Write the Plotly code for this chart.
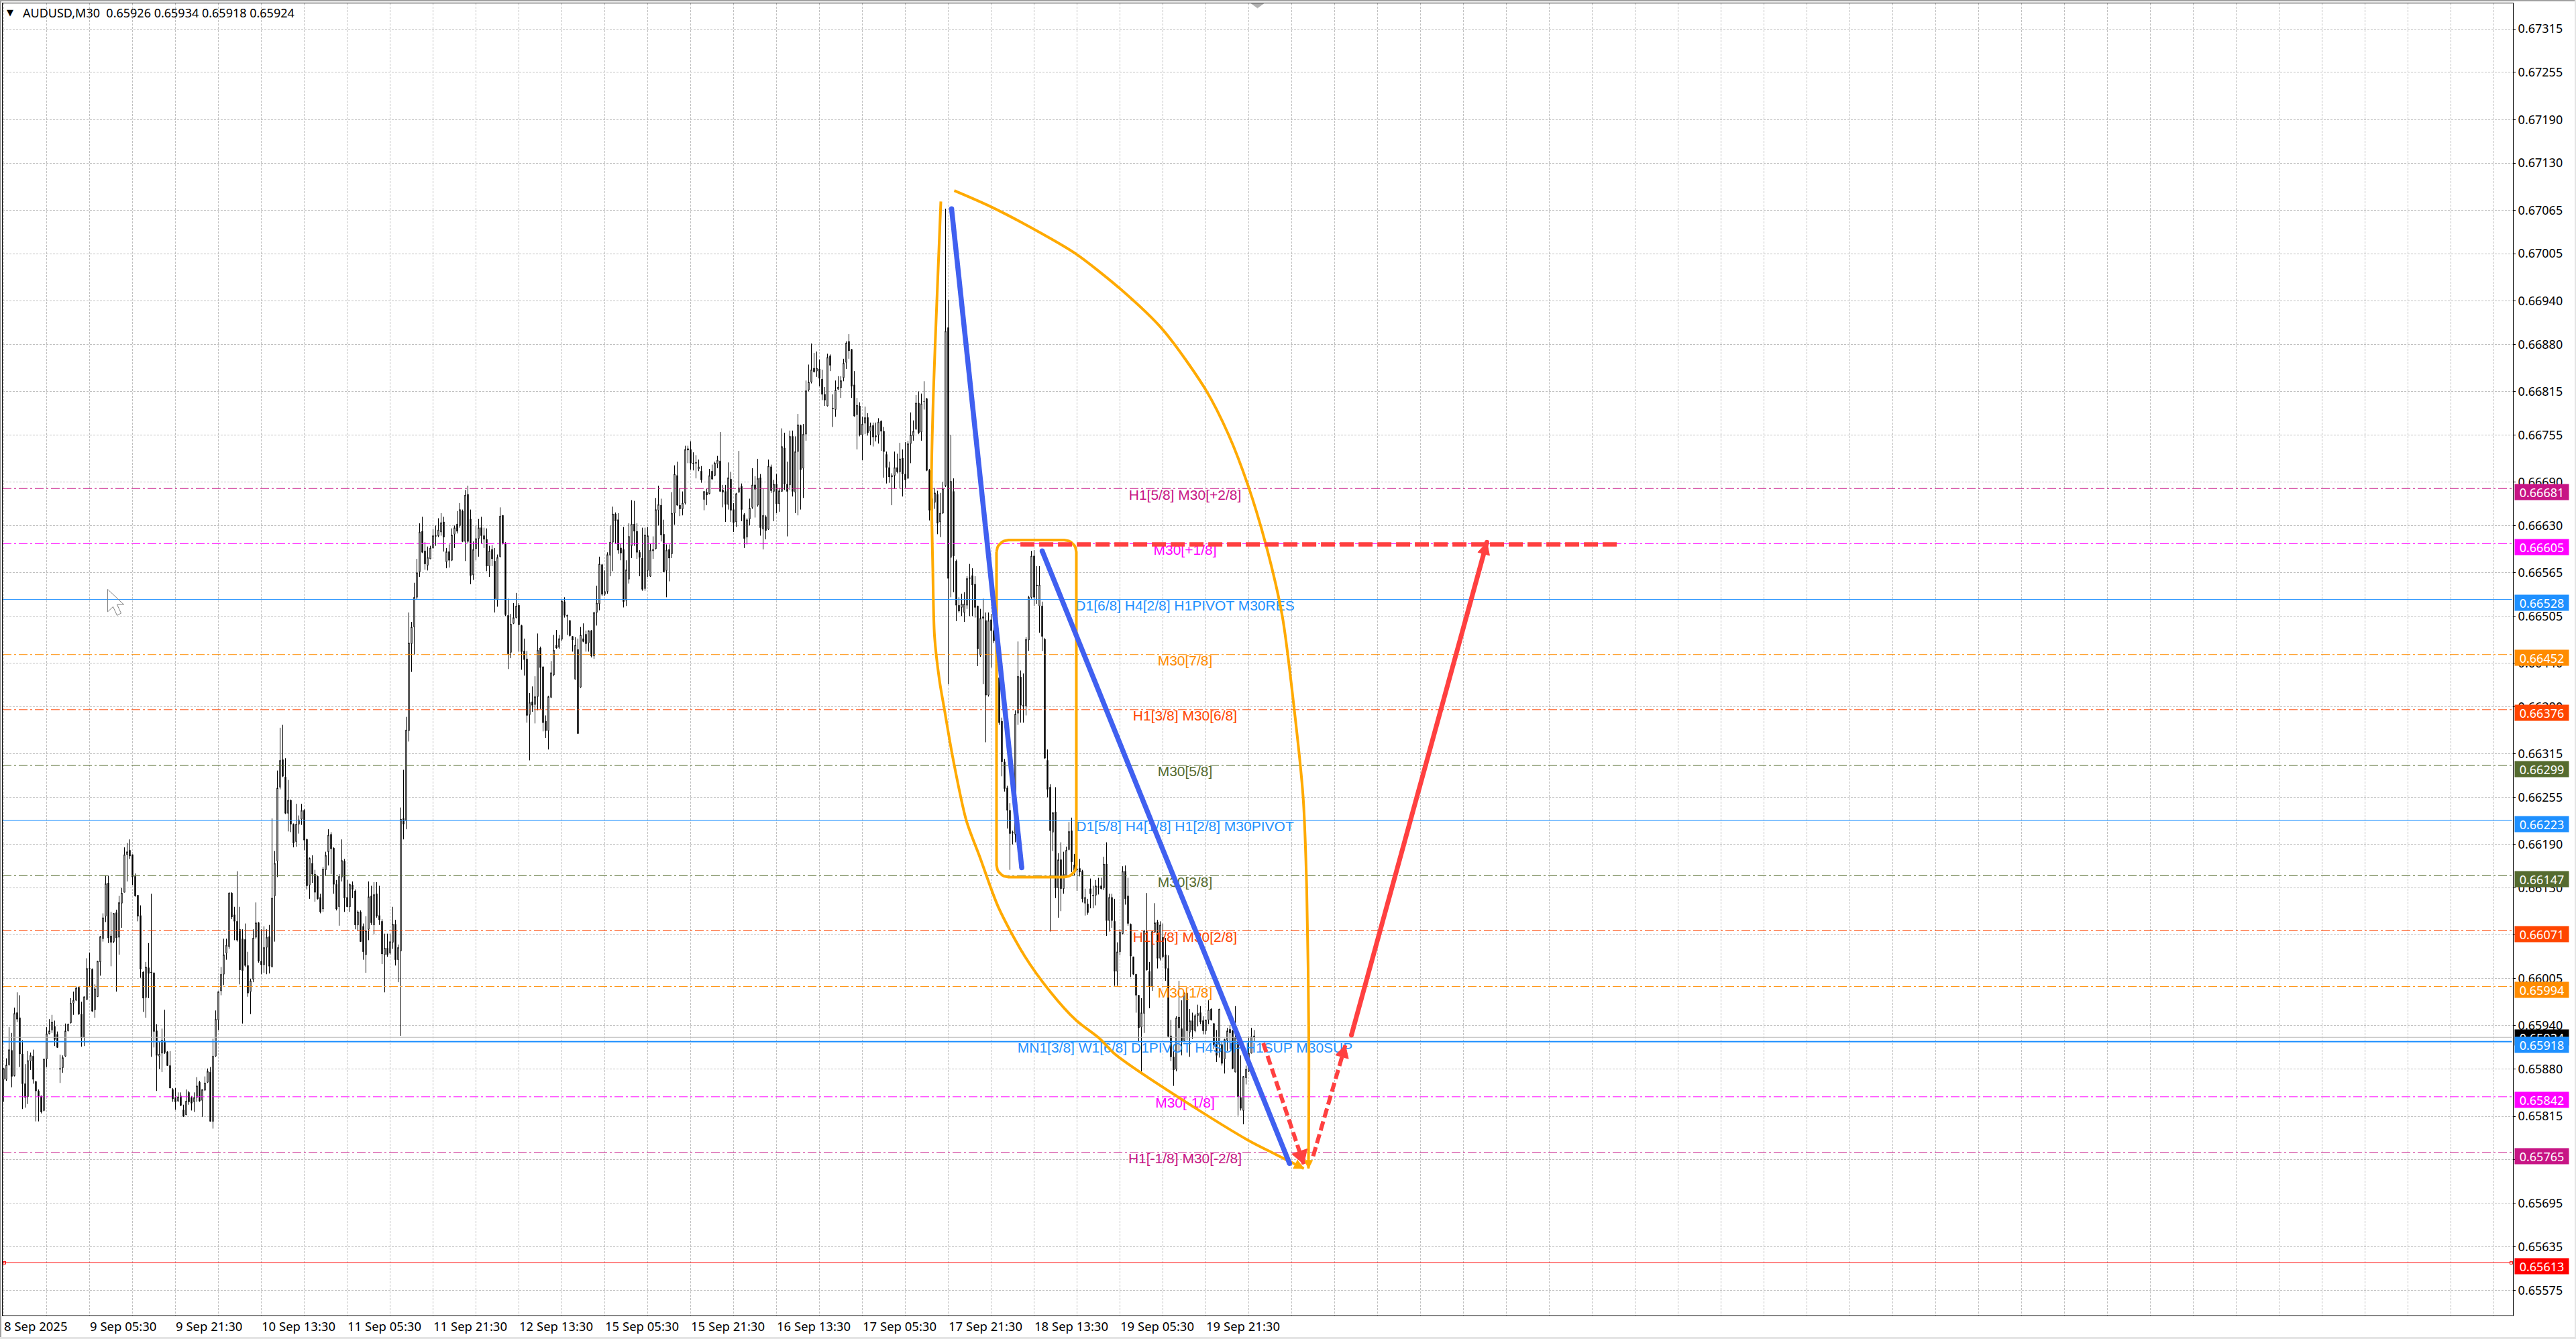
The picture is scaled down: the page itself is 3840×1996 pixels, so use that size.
import math
import plotly.graph_objects as go

# ---- candle data, in points (1 point = 0.00001) ----
body_tops = [
65881,65886,65907,65906,65957,65958,65951,65901,65860,65892,
65899,65898,65863,65850,65843,65894,65929,65933,65945,65939,
65928,65881,65896,65933,65942,65971,65975,65992,65993,65956,
65980,66019,66019,66018,65991,66029,66063,66089,66136,66137,
66064,66095,66096,66110,66123,66176,66180,66182,66176,66146,
66120,66092,66014,66021,66020,66014,66013,65933,65901,65920,
65919,65904,65885,65852,65841,65842,65843,65824,65836,65848,
65841,65841,65857,65862,65852,65861,65877,65876,65898,65949,
65987,66011,66038,66051,66123,66123,66093,66084,66073,66060,
66059,66023,66002,66061,66082,66082,66029,66048,66062,66063,
66116,66164,66268,66306,66307,66283,66251,66251,66218,66218,
66224,66237,66237,66197,66171,66164,66149,66146,66117,66156,
66175,66203,66204,66185,66135,66146,66168,66167,66117,66135,
66134,66126,66097,66097,66077,66071,66118,66119,66121,66122,
66092,66084,66047,66047,66056,66080,66080,66048,66225,66226,
66348,66468,66490,66531,66565,66621,66622,66595,66586,66599,
66616,66616,66624,66634,66635,66594,66594,66617,66627,66632,
66652,66650,66672,66673,66639,66597,66612,66627,66627,66616,
66611,66595,66597,66581,66586,66643,66644,66605,66506,66494,
66503,66519,66520,66492,66457,66446,66386,66387,66394,66458,
66461,66435,66360,66394,66427,66458,66465,66474,66526,66525,
66506,66499,66477,66465,66459,66479,66474,66480,66485,66485,
66510,66523,66577,66576,66539,66590,66607,66646,66646,66638,
66599,66597,66569,66615,66632,66632,66622,66593,66585,66617,
66616,66596,66597,66652,66659,66658,66618,66596,66597,66647,
66701,66699,66658,66661,66735,66736,66735,66716,66717,66711,
66705,66677,66676,66699,66705,66716,66720,66719,66679,66677,
66696,66694,66652,66674,66682,66684,66645,66638,66654,66686,
66686,66695,66696,66644,66642,66712,66711,66687,66687,66678,
66739,66737,66687,66753,66753,66732,66769,66768,66756,66816,
66828,66845,66847,66847,66846,66832,66811,66862,66864,66792,
66817,66821,66830,66854,66882,66884,66873,66824,66796,66795,
66770,66779,66779,66767,66768,66754,66773,66774,66760,66728,
66710,66699,66710,66710,66722,66723,66701,66743,66755,66760,
66799,66799,66798,66801,66805,66706,66667,66675,66673,66647,
66681,66898,66903,66691,66677,66581,66520,66522,66522,66557,
66558,66561,66549,66519,66502,66504,66499,66499,66500,66485,
66471,66420,66360,66304,66268,66237,66207,66370,66422,66421,
66382,66473,66531,66588,66588,66548,66548,66519,66473,66306,
66269,66234,66235,66169,66169,66149,66182,66208,66209,66162,
66156,66157,66153,66117,66108,66129,66120,66133,66132,66133,
66163,66163,66117,66117,66084,66042,66069,66153,66153,66119,
66080,66035,66011,65982,65958,66071,66070,66015,66070,66082,
66083,66079,66062,66038,66019,65926,65897,65951,65952,65936,
65985,65985,65947,65947,65954,65957,65958,65947,65948,65962,
65963,65943,65919,65963,65914,65921,65933,65935,65933,65924,
65919,65841,65870,65880,65902,65925,65926]
body_bottoms = [
65866,65866,65886,65870,65871,65949,65901,65860,65841,65842,
65891,65866,65850,65843,65821,65823,65894,65929,65934,65921,
65910,65880,65882,65898,65933,65944,65971,65975,65956,65923,
65924,65976,66018,65960,65962,65980,66028,66060,66091,66061,
66055,66056,66061,66062,66109,66124,66176,66174,66145,66119,
66091,66018,65978,65979,66012,66013,65932,65899,65898,65902,
65903,65885,65854,65839,65835,65836,65830,65815,65817,65835,
65833,65835,65841,65836,65837,65851,65862,65808,65808,65898,
65948,65988,66011,66040,66049,66090,66084,66058,66017,66016,
66023,65985,65987,66004,66062,66029,66024,66024,66048,66022,
66021,66119,66167,66269,66284,66233,66233,66218,66192,66194,
66218,66225,66196,66133,66134,66149,66124,66115,66097,66101,
66155,66180,66184,66135,66101,66104,66145,66116,66104,66104,
66128,66079,66079,66056,66042,66038,66073,66082,66079,66091,
66086,66039,66038,66038,66040,66055,66031,66031,66043,66218,
66223,66347,66467,66490,66531,66566,66593,66577,66575,66584,
66599,66615,66616,66621,66614,66580,66582,66582,66618,66622,
66630,66608,66608,66608,66561,66562,66598,66612,66616,66611,
66574,66574,66584,66529,66528,66587,66605,66507,66453,66455,
66495,66503,66493,66456,66445,66368,66369,66382,66383,66394,
66434,66358,66347,66347,66393,66424,66461,66462,66473,66506,
66505,66478,66472,66418,66343,66407,66470,66467,66468,66450,
66450,66510,66522,66535,66535,66539,66589,66607,66636,66596,
66592,66525,66527,66556,66602,66622,66593,66586,66542,66543,
66568,66560,66595,66598,66651,66617,66566,66568,66585,66591,
66647,66658,66653,66653,66661,66734,66716,66715,66716,66708,
66693,66666,66672,66674,66694,66699,66715,66677,66676,66659,
66659,66651,66634,66635,66676,66652,66612,66614,66639,66655,
66680,66658,66627,66625,66623,66625,66678,66677,66660,66660,
66677,66687,66677,66686,66677,66676,66732,66707,66709,66756,
66817,66828,66842,66843,66833,66811,66803,66795,66851,66791,
66790,66818,66820,66834,66855,66871,66822,66781,66783,66755,
66755,66771,66758,66760,66752,66752,66755,66760,66732,66710,
66697,66697,66699,66704,66704,66701,66693,66695,66743,66754,
66763,66758,66759,66801,66706,66651,66650,66662,66633,66635,
66647,66685,66557,66586,66588,66520,66512,66517,66510,66520,
66557,66548,66517,66460,66451,66502,66396,66396,66485,66471,
66420,66358,66304,66267,66237,66205,66206,66204,66371,66382,
66381,66381,66472,66531,66531,66547,66519,66477,66309,66266,
66209,66207,66130,66130,66129,66129,66147,66183,66166,66153,
66155,66152,66115,66109,66096,66122,66119,66120,66131,66129,
66130,66085,66085,66085,66015,66015,66042,66067,66115,66081,
66036,66011,65982,65937,65938,65957,66017,65994,65994,66069,
66033,66033,66035,66019,65925,65897,65879,65880,65937,65919,
65919,65933,65931,65934,65933,65954,65945,65933,65933,65948,
65948,65913,65899,65914,65888,65894,65920,65930,65881,65876,
65842,65826,65823,65868,65877,65902,65924]
highs = [
65881,65895,65938,65930,65965,65986,65982,65920,65887,65905,
65903,65907,65864,65852,65843,65894,65938,65949,65955,65947,
65932,65900,65899,65943,65943,65978,65987,65994,65994,65973,
65980,66033,66041,66019,65997,66029,66064,66095,66147,66147,
66097,66095,66100,66119,66130,66186,66192,66197,66176,66150,
66120,66106,66015,66028,66054,66122,66013,65942,65918,65936,
65962,65905,65905,65854,65854,65848,65848,65831,65852,65850,
65843,65848,65869,65864,65852,65870,65881,65883,65922,65961,
65987,66021,66060,66060,66124,66124,66104,66153,66104,66073,
66081,66042,66005,66073,66110,66083,66073,66077,66073,66079,
66226,66181,66292,66351,66355,66309,66279,66252,66219,66246,
66230,66246,66239,66198,66172,66175,66155,66147,66122,66159,
66180,66211,66207,66186,66141,66149,66197,66170,66141,66136,
66139,66128,66099,66099,66081,66091,66139,66133,66138,66138,
66133,66087,66067,66067,66067,66104,66086,66052,66241,66293,
66366,66510,66497,66551,66584,66633,66642,66607,66601,66602,
66625,66630,66640,66647,66642,66599,66604,66626,66630,66650,
66661,66652,66679,66685,66652,66608,66630,66639,66642,66627,
66626,66602,66603,66599,66590,66655,66644,66607,66529,66508,
66523,66537,66523,66493,66474,66457,66399,66408,66422,66481,
66463,66436,66368,66395,66443,66479,66486,66479,66527,66531,
66507,66499,66477,66476,66474,66490,66495,66485,66485,66486,
66511,66547,66587,66577,66568,66593,66630,66656,66648,66647,
66605,66628,66582,66633,66665,66664,66633,66596,66627,66627,
66628,66605,66615,66668,66685,66667,66638,66604,66604,66676,
66713,66718,66681,66677,66740,66740,66746,66731,66727,66721,
66712,66677,66681,66708,66714,66718,66726,66759,66686,66686,
66717,66704,66661,66675,66733,66688,66647,66640,66667,66709,
66698,66722,66701,66681,66644,66721,66714,66693,66701,66682,
66764,66758,66718,66761,66761,66753,66784,66769,66770,66830,
66852,66881,66868,66870,66859,66845,66821,66867,66866,66811,
66830,66836,66836,66860,66884,66894,66873,66843,66806,66800,
66780,66794,66785,66772,66772,66772,66778,66775,66766,66732,
66718,66702,66732,66729,66744,66735,66745,66747,66786,66775,
66810,66815,66812,66829,66806,66708,66672,66682,66678,66675,
66690,67067,66941,66755,66695,66583,66531,66536,66538,66560,
66577,66571,66560,66519,66515,66529,66510,66510,66508,66496,
66472,66421,66365,66308,66271,66247,66209,66375,66470,66430,
66426,66476,66533,66595,66596,66574,66574,66525,66475,66321,
66273,66234,66269,66178,66193,66180,66187,66221,66227,66177,
66170,66170,66155,66129,66115,66143,66133,66141,66144,66144,
66173,66193,66122,66122,66115,66055,66073,66160,66161,66144,
66081,66035,66011,65982,65978,66072,66123,66028,66071,66109,
66086,66084,66081,66061,66037,65948,65905,65953,66002,65975,
65986,65986,65963,65958,65956,65969,65967,65953,65948,65975,
65964,65943,65934,65963,65919,65922,65937,65941,65934,65967,
65924,65899,65870,65885,65925,65937,65934]
lows = [
65835,65864,65885,65855,65870,65945,65883,65825,65827,65832,
65879,65860,65808,65808,65819,65822,65883,65928,65930,65912,
65910,65861,65875,65897,65932,65943,65955,65974,65955,65911,
65912,65976,65994,65959,65951,65980,66009,66056,66083,66054,
66022,66054,65987,66038,66075,66124,66139,66170,66134,66118,
66084,66006,65959,65951,65978,65897,65910,65850,65880,65876,
65901,65885,65854,65835,65824,65835,65829,65814,65817,65831,
65823,65821,65835,65835,65814,65850,65861,65808,65798,65897,
65934,65982,65996,66031,66046,66087,66058,66056,65997,65943,
66021,65980,65956,66000,66060,66027,66011,66013,66011,66012,
66021,66056,66145,66266,66283,66232,66208,66207,66186,66187,
66205,66217,66182,66128,66115,66137,66111,66114,66095,66097,
66147,66161,66149,66122,66099,66078,66139,66097,66104,66097,
66116,66073,66071,66056,66031,66013,66058,66079,66066,66089,
66079,66025,65986,66035,66038,66046,66023,66000,65926,66197,
66211,66332,66428,66452,66528,66559,66592,66569,66568,66584,
66598,66602,66614,66616,66594,66571,66572,66581,66599,66619,
66627,66607,66581,66605,66549,66555,66582,66587,66605,66599,
66567,66559,66574,66510,66518,66586,66604,66505,66432,66447,
66494,66502,66456,66431,66423,66358,66306,66373,66357,66375,
66377,66346,66337,66321,66392,66422,66460,66460,66471,66503,
66479,66477,66456,66418,66343,66406,66469,66456,66456,66448,
66446,66492,66513,66533,66533,66536,66560,66567,66605,66591,
66582,66517,66519,66550,66585,66602,66584,66560,66540,66540,
66559,66559,66584,66597,66630,66608,66566,66531,66553,66585,
66631,66657,66643,66644,66659,66716,66707,66706,66695,66705,
66689,66651,66658,66673,66693,66698,66709,66677,66655,66635,
66652,66635,66621,66628,66675,66636,66599,66604,66630,66653,
66641,66656,66616,66597,66611,66624,66675,66636,66647,66649,
66677,66679,66615,66679,66670,66647,66644,66652,66668,66747,
66815,66826,66841,66835,66822,66803,66795,66794,66843,66766,
66780,66817,66806,66829,66846,66860,66806,66780,66735,66753,
66720,66756,66754,66741,66739,66746,66743,66733,66696,66688,
66689,66658,66681,66702,66681,66670,66682,66695,66716,66747,
66762,66756,66747,66790,66705,66637,66640,66653,66618,66614,
66646,66683,66411,66531,66538,66498,66510,66505,66497,66515,
66505,66505,66503,66436,66449,66411,66331,66394,66434,66468,
66418,66355,66284,66263,66212,66155,66190,66193,66355,66358,
66358,66368,66457,66529,66519,66522,66482,66457,66308,66255,
66070,66181,66116,66089,66098,66122,66144,66182,66152,66147,
66126,66146,66110,66092,66093,66102,66102,66106,66121,66128,
66127,66064,66070,66075,65995,65995,66037,66066,66107,66078,
66007,66010,65958,65917,65877,65930,66016,65964,65988,66068,
66019,66030,66033,66002,65924,65891,65857,65877,65905,65899,
65917,65920,65897,65922,65931,65939,65942,65928,65928,65942,
65947,65908,65890,65896,65885,65874,65905,65908,65880,65876,
65816,65823,65804,65859,65876,65902,65918]
directions = """
u u u d u d d d d u  u d d d d u u u u d  d d u u u u u u d d  u u u d u u u u u d  d u d u u u u d d d
d d d u d d d d u u  d d d d d u d d u d  d u u d u u u d u u  u u u u u d d d d d  d d u u u d d u u d
u u u u d d u d d u  u u d d u d d d d u  u u d d d u u d d u  d d u d d u u d u d  d d u d u u d u u d
u u u u u u d d u u  u u u u d u d u u d  u d u d d u u u d d  d u d d u u d d d u  u u d d d d u d u u
d d d u u u d u u d  d d d u d u d d u d  u u u d u u u u d d  d d u u u d d d d u  u u u u u d d u d u
u d d u u d d d d u  d u d u d u u d d d  u d d u u d d u u u  d u d u d u d u d u  u d d u d u u d u u
u u d u d d d u d d  u u u u u d d d u d  u u d u d u u d d d  d u u d u d d u u u  u d u d d d u u d u
u u d u d d d u u u  d d d d u d d u d d  d d d d d d u u u d  d u u u d d u d d d  d u d u d u u u d d
d d d u d d d u d d  u d u d d u u u d d  d d d d u u d d u u  d u d d d d d u d d  u d u d u u d d u u
d d d u d u u d d u  d d u u u u d
""".split()
tick_text = ["8 Sep 2025", "9 Sep 05:30", "9 Sep 21:30", "10 Sep 13:30", "11 Sep 05:30",
             "11 Sep 21:30", "12 Sep 13:30", "15 Sep 05:30", "15 Sep 21:30", "16 Sep 13:30",
             "17 Sep 05:30", "17 Sep 21:30", "18 Sep 13:30", "19 Sep 05:30", "19 Sep 21:30"]
price_ticks = [67315,67255,67190,67130,67065,67005,66940,66880,66815,66755,66690,66630,66565,
               66505,66440,66380,66315,66255,66190,66130,66065,66005,65940,65880,65815,65755,
               65695,65635,65575]

# ---- horizontal levels ----
level_values = [66681,66605,66528,66452,66376,66299,66223,66147,66071,65994,65918,65842,65765,65613]
level_colors = ["#C71585","#FF00FF","#1E90FF","#FF8C00","#FF4500","#556B2F","#1E90FF","#556B2F",
                "#FF4500","#FF8C00","#1E90FF","#FF00FF","#C71585","#FF0000"]
level_styles = ["dd","dd","solid","dd","dd","dd","solid","dd","dd","dd","thick","dd","dd","solid"]
level_texts = ["H1[5/8] M30[+2/8]","M30[+1/8]","D1[6/8] H4[2/8] H1PIVOT M30RES","M30[7/8]",
               "H1[3/8] M30[6/8]","M30[5/8]","D1[5/8] H4[1/8] H1[2/8] M30PIVOT","M30[3/8]",
               "H1[1/8] M30[2/8]","M30[1/8]","MN1[3/8] W1[6/8] D1PIVOT H4SUP H1SUP M30SUP",
               "M30[-1/8]","H1[-1/8] M30[-2/8]",""]
bid_price = 65924

# ---- drawn objects: (bar position, price in points) ----
arc_left_x = [349.25,347.75,346.5,345.75,346.25,346.9,348.75,350.5,353.75,358.75,363.75,370.75,
              380.5,390,399.5,408.5,413.75,418.75,438.75,463.75,473.75,484.5]
arc_left_y = [67077,66938,66815,66691,66571,66477,66416,66378,66309,66223,66173,66103,
              66036,65987,65948,65922,65902,65888,65839,65782,65763,65743]
arc_right_x = [354.25,367.75,387.25,399.5,416.25,432,448,456.5,463.75,470.5,476.5,480.75,
               484.25,485.6,486.4,486.25]
arc_right_y = [67092,67070,67032,67005,66956,66900,66817,66755,66685,66602,66505,66383,
               66256,66129,65916,65743]
box_x = [370, 399.75]
box_y = [66610, 66145]
blue_a_x, blue_a_y = [353.25, 379.4], [67067, 66158]
blue_b_x, blue_b_y = [387, 479.2], [66595, 65750]
target_x, target_y = [378.9, 601.25], [66604, 66604]
red_down_x, red_down_y = [469.4, 484.5], [65916, 65749]
red_up_x, red_up_y = [488, 500], [65760, 65913]
red_solid_x, red_solid_y = [502.25, 552.75], [65927, 66607]
cursor_x = [38.75,38.75,40.75,42.25,43.75,42.25,44.75,38.75]
cursor_y = [66542,66511,66518,66506,66509,66521,66521,66542]

# ---- page geometry ----
W, H = 3840, 1996
ML, MR, MT, MB = 4, 94, 5, 35
PX_BAR, PX_PT = 4.0, 1.0806
ORANGE, BLUE, RED = "#FFAA00", "#4060F0", "#FF4040"
pr = lambda v: v / 1e5

if not (len(body_tops) == len(body_bottoms) == len(highs) == len(lows) == len(directions)):
    raise SystemExit("lens %d %d %d %d %d" % (len(body_tops), len(body_bottoms), len(highs), len(lows), len(directions)))

opens = [pr(b if d == "u" else t) for t, b, d in zip(body_tops, body_bottoms, directions)]
closes = [pr(t if d == "u" else b) for t, b, d in zip(body_tops, body_bottoms, directions)]
bars = list(range(len(opens)))

fig = go.Figure()
fig.add_trace(go.Candlestick(
    x=bars, open=opens, high=[pr(v) for v in highs], low=[pr(v) for v in lows], close=closes,
    whiskerwidth=0,
    increasing=dict(line=dict(color="#000000", width=1), fillcolor="#FFFFFF"),
    decreasing=dict(line=dict(color="#000000", width=1), fillcolor="#000000"),
    hoverinfo="skip"))

X_START, X_STOP = -0.375, 935.125
X_END = 934.75
for v, c, s in zip(level_values, level_colors, level_styles):
    line = dict(color=c, width=1, dash="13px,4px,3px,4px")
    if s == "solid":
        line = dict(color=c, width=1)
    if s == "thick":
        line = dict(color=c, width=2)
    fig.add_trace(go.Scatter(x=[X_START, X_END], y=[pr(v), pr(v)], mode="lines", line=line, hoverinfo="skip"))
fig.add_trace(go.Scatter(x=[X_START, X_END], y=[pr(bid_price)] * 2, mode="lines",
                         line=dict(color="#B8B8B8", width=1), hoverinfo="skip"))
fig.add_trace(go.Scatter(x=[0.25, X_END - 0.25], y=[pr(65613)] * 2, mode="markers",
                         marker=dict(symbol="square-open", size=4, color="#FF0000", line=dict(width=1)),
                         hoverinfo="skip"))

LABEL_BAR = 440.25
for v, c, t in zip(level_values, level_colors, level_texts):
    if t:
        fig.add_trace(go.Scatter(x=[LABEL_BAR], y=[pr(v - 10.2)], mode="text", text=[t],
                                 textposition="middle center",
                                 textfont=dict(family="Liberation Sans", size=21, color=c),
                                 hoverinfo="skip"))

def add_line(x, y, color, width, dash=None, ends=False, smooth=False):
    line = dict(color=color, width=width, dash=dash or "solid")
    if smooth:
        line.update(shape="spline", smoothing=0.8)
    fig.add_trace(go.Scatter(x=x, y=[pr(v) for v in y], mode="lines+markers" if ends else "lines",
                             line=line, marker=dict(size=width, color=color), hoverinfo="skip"))

def add_head(x, y, color, length, half):
    dx = (x[-1] - x[-2]) * PX_BAR
    dy = (y[-1] - y[-2]) * PX_PT
    n = (dx * dx + dy * dy) ** 0.5
    ux, uy = dx / n, dy / n
    px = [0, -length * ux - half * uy, -length * ux + half * uy, 0]
    py = [0, -length * uy + half * ux, -length * uy - half * ux, 0]
    fig.add_trace(go.Scatter(x=[x[-1] + a / PX_BAR for a in px],
                             y=[pr(y[-1] + b / PX_PT) for b in py],
                             mode="lines", fill="toself", fillcolor=color,
                             line=dict(color=color, width=1), hoverinfo="skip"))

add_line(arc_left_x, arc_left_y, ORANGE, 4, smooth=True)
add_head(arc_left_x, arc_left_y, ORANGE, 14, 7)
add_line(arc_right_x, arc_right_y, ORANGE, 4, smooth=True)
add_head(arc_right_x, arc_right_y, ORANGE, 12, 6)

# rounded rectangle built from the box corners, clockwise from the top left
rx, ry = 4.5, 18 / PX_PT
def corner(cx, cy, a0):
    return [(cx + rx * math.cos(a0 - k * math.pi / 16), cy + ry * math.sin(a0 - k * math.pi / 16)) for k in range(9)]
x0, x1, y1, y0 = box_x[0], box_x[1], box_y[0], box_y[1]
pts = corner(x0 + rx, y1 - ry, math.pi) + corner(x1 - rx, y1 - ry, math.pi / 2) + \
      corner(x1 - rx, y0 + ry, 0) + corner(x0 + rx, y0 + ry, -math.pi / 2)
pts = pts + pts[:1]
add_line([p[0] for p in pts], [p[1] for p in pts], ORANGE, 4)

add_line(blue_a_x, blue_a_y, BLUE, 7.5, ends=True)
add_line(blue_b_x, blue_b_y, BLUE, 7.5, ends=True)
add_line(target_x, target_y, RED, 6.5, dash="21px,7px")
add_line(red_down_x, red_down_y, RED, 6, dash="14px,6px")
add_head(red_down_x, red_down_y, RED, 20, 12)
add_line(red_up_x, red_up_y, RED, 6, dash="14px,6px")
add_head(red_up_x, red_up_y, RED, 18, 10)
add_line(red_solid_x, red_solid_y, RED, 7, ends=True)
add_head(red_solid_x, red_solid_y, RED, 18, 9)
add_line(cursor_x, cursor_y, "#808080", 1)
fig.add_trace(go.Scatter(x=[465, 469.5, 467.25, 465], y=[pr(67350), pr(67350), pr(67344), pr(67350)],
                         mode="lines", fill="toself", fillcolor="#B0B0B0",
                         line=dict(color="#B0B0B0", width=1), hoverinfo="skip"))

FONT = "Noto Sans"
plot_w = W - ML - MR
plot_h = H - MT - MB
fx = lambda px: (px - ML) / plot_w
fy = lambda py: 1 - (py - MT) / plot_h

annotations = [
    dict(text="AUDUSD,M30\u00a0\u00a00.65926 0.65934 0.65918 0.65924", xref="paper", yref="paper",
         x=fx(32), y=fy(19), xanchor="left", yanchor="middle", showarrow=False,
         font=dict(family=FONT, size=18, color="#000000")),
    dict(text="\u25BC", xref="paper", yref="paper", x=fx(15), y=fy(19), xanchor="center", yanchor="middle",
         showarrow=False, font=dict(family="DejaVu Sans", size=13, color="#000000")),
]
def badge(value, color, shift):
    return dict(text="%.5f" % pr(value), xref="paper", yref="y", x=fx(3748), y=pr(value), xanchor="left",
                yanchor="middle", yshift=shift, width=80, height=23, bgcolor=color, borderpad=0,
                showarrow=False, align="center", valign="middle",
                font=dict(family=FONT, size=18, color="#FFFFFF"))
annotations.append(badge(bid_price, "#000000", 0))
for v, c in zip(level_values, level_colors):
    annotations.append(badge(v, c, -5))

bands = [(0, 0, W, 2, "#A0A0A0"), (0, 0, 2, H, "#A0A0A0"),
         (W - 2, 0, W, H, "#E4E4E4"), (0, H - 3, W, H, "#E4E4E4")]
shapes = [dict(type="rect", xref="paper", yref="paper", layer="above", line=dict(width=0), fillcolor=c,
               x0=fx(a), x1=fx(b2), y0=fy(d), y1=fy(e)) for a, e, b2, d, c in bands]

tick_positions = list(range(0, 929, 16))
tick_labels = [tick_text[i // 2] if i % 2 == 0 and i // 2 < len(tick_text) else "" for i in range(len(tick_positions))]

fig.update_layout(
    width=W, height=H, margin=dict(l=ML, r=MR, t=MT, b=MB, pad=0, autoexpand=False),
    paper_bgcolor="#FFFFFF", plot_bgcolor="#FFFFFF", showlegend=False, hovermode=False,
    boxgap=0.5, annotations=annotations, shapes=shapes,
    xaxis=dict(range=[X_START, X_STOP], rangeslider=dict(visible=False), tickmode="array",
               tickvals=tick_positions, ticktext=tick_labels, ticks="", automargin=False,
               ticklabelposition="outside right", ticklabeloverflow="allow",
               showgrid=True, gridcolor="#C0C0C0", griddash="3px,2px", gridwidth=1, zeroline=False,
               showline=True, mirror=True, linecolor="#000000", linewidth=1,
               tickfont=dict(family=FONT, size=18.5, color="#000000"), tickangle=0),
    yaxis=dict(range=[pr(65540.2), pr(67350.3)], side="right", tickmode="array",
               tickvals=[pr(v) for v in price_ticks], ticktext=["%.5f" % pr(v) for v in price_ticks],
               ticks="outside", ticklen=3, tickcolor="#000000", automargin=False,
               showgrid=True, gridcolor="#C0C0C0", griddash="3px,2px", gridwidth=1, zeroline=False,
               showline=True, mirror=True, linecolor="#000000", linewidth=1, ticklabeloverflow="allow",
               tickfont=dict(family=FONT, size=18, color="#000000")),
)
fig.write_html("out.html", config=dict(displayModeBar=False),
               post_script="document.body.style.margin='0';document.body.style.overflow='hidden';")
